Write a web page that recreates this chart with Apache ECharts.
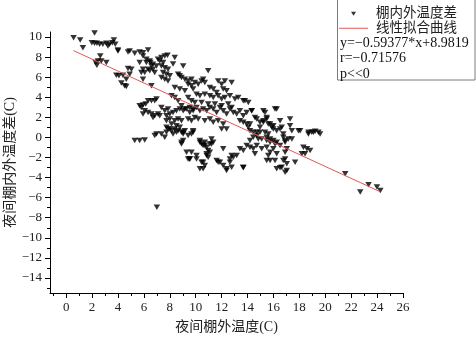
<!DOCTYPE html>
<html>
<head>
<meta charset="utf-8">
<script src="https://cdn.jsdelivr.net/npm/echarts@6/dist/echarts.min.js"></script>
<style>
  html, body { margin: 0; padding: 0; background: #fff; }
  #chart { width: 476px; height: 337px; }
</style>
</head>
<body>
<div id="chart"></div>
<script>
// 夜间棚外温度 vs 棚内外温度差 —— 散点 + 线性拟合
const FONT = '"Liberation Serif", "Noto Sans CJK SC", serif'

// [棚外温度, 棚内外温度差]
const scatterPoints = [
  [0.57, 9.93], [1.08, 9.7], [1.29, 8.94], [2.19, 10.4],
  [1.98, 9.43], [2.19, 9.37], [2.37, 9.37], [2.58, 9.27], [2.83, 9.27], [3.1, 9.37], [3.22, 9.1],
  [3.35, 9.27], [3.56, 9.43], [3.68, 9.7], [3.79, 9.27], [3.99, 8.71],
  [4.0, 8.61], [4.77, 8.51], [4.9, 8.61], [5.29, 8.38], [5.67, 8.51], [5.93, 8.44], [6.32, 8.71],
  [2.63, 8.11], [2.27, 7.45], [2.45, 7.62], [2.37, 7.19], [2.71, 7.62], [3.1, 7.45],
  [3.87, 6.2], [4.07, 6.13], [4.38, 6.2], [4.9, 6.3], [5.03, 6.8], [4.77, 6.86],
  [4.26, 5.41], [4.64, 5.07], [4.64, 5.8], [4.51, 5.14],
  [5.67, 7.45], [5.93, 6.8], [6.19, 7.45], [5.8, 6.46], [6.06, 6.46], [6.5, 7.45], [6.7, 6.8],
  [6.58, 7.12], [6.97, 7.12], [6.83, 6.46], [7.09, 7.79], [5.93, 5.8], [6.58, 5.14],
  [5.93, 8.11], [6.19, 7.78], [6.45, 7.62], [6.7, 7.29], [6.32, 6.8], [6.45, 6.63],
  [5.67, 3.15], [5.93, 3.22], [6.14, 3.32], [6.32, 3.65], [6.58, 3.65], [6.97, 3.82],
  [7.35, 7.95], [7.61, 8.11], [7.82, 8.18], [7.22, 7.62], [7.48, 7.45], [7.35, 7.12],
  [7.61, 6.95], [7.86, 6.8], [7.48, 6.46], [7.74, 6.3], [8.0, 6.13], [7.35, 5.96], [7.61, 5.8],
  [7.86, 5.63], [8.38, 7.95], [8.25, 7.3], [9.03, 7.12], [8.64, 6.3], [8.77, 6.13], [8.9, 5.96],
  [9.16, 5.8], [9.41, 5.63], [9.67, 5.8], [8.38, 4.97], [8.77, 4.81], [9.16, 4.64], [9.41, 5.3],
  [9.67, 5.14], [9.93, 5.47], [10.19, 5.3], [9.8, 4.81], [10.45, 5.63], [10.57, 5.8], [10.7, 5.47],
  [10.96, 6.63], [11.09, 4.97], [11.35, 4.81], [11.73, 5.63], [12.0, 5.3], [12.25, 5.63],
  [12.12, 4.81], [12.38, 4.64], [12.77, 5.47], [11.61, 4.47], [10.06, 4.31], [10.32, 4.14],
  [10.7, 4.31], [11.09, 4.14], [11.35, 3.97], [11.73, 4.14], [12.0, 3.82], [12.25, 3.97],
  [12.64, 4.14], [13.03, 3.82], [13.28, 3.97], [13.67, 3.65], [14.06, 3.48], [13.8, 3.65],
  [9.41, 3.97], [9.67, 3.65], [9.93, 3.48], [10.45, 3.48], [10.96, 3.32], [11.48, 3.32],
  [12.0, 3.15], [12.51, 3.32], [12.77, 2.98], [8.13, 4.14], [8.38, 3.97], [8.64, 3.65],
  [8.9, 3.15], [9.16, 2.83], [7.86, 2.83], [7.35, 2.98], [6.83, 3.65],
  [5.8, 2.98], [6.06, 2.66], [5.93, 2.33], [6.32, 2.49], [6.58, 2.33], [6.7, 1.99], [6.83, 2.16],
  [7.09, 2.33], [7.61, 2.66], [7.74, 2.16], [8.0, 2.33], [8.25, 2.49], [8.51, 2.66],
  [8.77, 2.83], [9.03, 2.66], [9.29, 2.83], [9.54, 2.49], [9.8, 2.66], [7.22, 2.16],
  [7.74, 1.67], [8.0, 1.83], [8.38, 1.67], [8.64, 1.83], [8.9, 1.67], [9.41, 1.83], [9.67, 1.67],
  [7.74, 1.0], [7.86, 0.84], [8.13, 0.67], [8.38, 0.84], [8.64, 0.67], [8.77, 1.0], [8.9, 0.51],
  [9.03, 0.35], [9.16, 0.67], [8.51, 1.17], [9.41, 0.18], [9.67, 0.35], [9.8, 0.51],
  [8.13, 1.34], [8.0, 0.84], [8.51, 0.51], [9.03, 0.51], [8.25, 0.35],
  [6.97, 0.35], [7.35, 0.35], [6.83, 0.18], [7.61, 0.01], [7.74, 0.51],
  [5.29, -0.32], [5.67, -0.32], [6.06, -0.25],
  [8.9, -0.49], [9.03, -0.32], [9.29, -1.48], [9.54, -2.14], [8.9, -0.65],
  [9.41, -2.14], [10.06, -2.14], [10.45, -2.47], [9.67, -1.48], [10.57, -3.13], [10.7, -2.8],
  [7.0, -6.96],
  [9.54, 2.99], [9.8, 2.83], [10.06, 2.99], [10.32, 2.66], [10.57, 2.83], [10.84, 2.66],
  [11.09, 2.99], [11.35, 2.83], [11.61, 2.49], [11.87, 2.99], [12.12, 2.66], [12.38, 2.33],
  [12.64, 2.83], [12.9, 2.49], [13.16, 2.33], [13.41, 2.66], [13.67, 2.16], [13.93, 2.49],
  [14.32, 2.66], [14.57, 1.99], [14.71, 1.83], [14.96, 1.5], [15.22, 1.67], [15.48, 1.83],
  [15.74, 1.34], [15.99, 1.17], [16.25, 2.83], [15.35, 2.49],
  [9.93, 1.99], [10.19, 1.83], [10.7, 1.67], [11.09, 1.83], [11.35, 1.5], [11.73, 1.67],
  [12.12, 1.34], [12.38, 0.84], [12.0, 0.84], [13.41, 1.67], [13.67, 1.5], [13.93, 1.34],
  [14.06, 1.0], [14.19, 0.67], [14.44, 0.51], [14.71, 0.18], [14.96, 0.51], [15.09, -0.15],
  [15.48, 0.01], [15.74, -0.15], [15.99, -0.32], [16.25, -0.49], [16.51, 0.84], [16.76, 0.35],
  [16.9, -0.49], [17.15, -0.15], [9.8, 0.67],
  [10.32, -0.32], [10.45, -0.65], [10.57, -0.81], [10.7, -0.49], [10.84, -0.98], [10.96, -1.31],
  [11.09, -1.48], [10.84, -1.64], [10.96, -1.97], [11.22, -0.15], [11.35, -0.49], [11.22, -0.65],
  [10.32, -0.49], [10.7, -0.81], [11.09, -0.65], [10.84, -1.81],
  [10.06, -1.81], [10.57, -2.47], [10.32, -3.13], [11.61, -2.3], [11.87, -2.47], [12.38, -3.13],
  [12.64, -2.47], [12.77, -1.81], [13.16, -1.81], [13.41, -1.14], [13.67, -1.31], [13.93, -0.81],
  [14.19, -0.98], [14.44, -1.14], [14.57, -1.64], [14.71, -0.81], [15.09, -1.14], [15.48, -0.98],
  [15.6, -1.81], [15.74, -1.48], [15.99, -1.14], [16.51, -0.81], [16.64, -2.97], [17.03, -3.29],
  [15.74, -2.3], [16.12, -2.3], [12.64, -2.14], [12.12, -1.14], [13.67, -2.97], [9.54, -2.14],
  [16.9, -1.48], [17.03, -1.14],
  [11.73, -2.47], [12.12, -2.8], [12.38, -3.29], [12.77, -2.97], [12.9, -1.97],
  [16.25, -3.13], [16.9, -3.46], [17.03, -2.63], [16.76, -2.3], [16.25, -1.64], [15.48, -2.3],
  [17.67, -2.47], [13.67, -3.03], [16.51, -3.03], [16.9, -2.14],
  [14.32, 2.66], [15.22, 2.66], [16.12, 2.83], [17.28, 1.83], [16.51, 1.67], [15.48, 1.99],
  [15.22, 1.5], [15.6, 1.34], [15.87, 1.0], [15.99, 0.84], [16.25, 0.67], [14.96, 1.0],
  [14.19, 1.34], [14.71, 0.51], [15.35, 0.51], [15.6, 0.35], [16.64, 1.0], [17.28, 1.17],
  [17.42, 0.67], [17.93, 0.67], [18.7, 0.51], [18.96, 0.51], [19.22, 0.61], [19.47, 0.51],
  [16.76, 0.01], [16.9, -0.32], [17.42, -0.15], [14.44, 0.01], [14.83, -0.15], [14.19, -0.32],
  [15.48, -0.32], [15.74, -0.49], [16.12, -0.65],
  [18.06, 0.67], [18.7, 0.35], [19.09, 0.51], [19.6, 0.35],
  [18.31, -0.98], [18.58, -1.14], [18.83, -1.31], [18.19, -1.64], [18.44, -1.64],
  [21.54, -3.62], [23.34, -4.71], [23.99, -4.95], [24.25, -5.28], [22.7, -5.45]
]

// 拟合直线 y = -0.59377 * x + 8.9819
const fitSlope = -0.59377
const fitIntercept = 8.9819
const fitRange = [0.55, 24.2]

const xMajor = [0, 2, 4, 6, 8, 10, 12, 14, 16, 18, 20, 22, 24, 26]
const xMinor = [-1, 1, 3, 5, 7, 9, 11, 13, 15, 17, 19, 21, 23, 25]
const yMajor = [-14, -12, -10, -8, -6, -4, -2, 0, 2, 4, 6, 8, 10]
const yMinor = [-15, -13, -11, -9, -7, -5, -3, -1, 1, 3, 5, 7, 9]

const statLines = ['y=\u22120.59377*x+8.9819', 'r=\u22120.71576', 'p<<0']

const minus = v => String(v).replace('-', '\u2212')
const X_MIN = -1.25, X_MAX = 26, Y_MIN = -15.5, Y_MAX = 10.5

// 倒三角；图例里多加两个 moveTo 点把图标缩小
const TRI = 'path://M0,0L10,0L5,8Z'
const TRI_LEGEND = 'path://M-4,-3M14,11M0,0L10,0L5,8Z'
const LINE_LEGEND = 'path://M0,0L29,0L29,1L0,1Z'

const chart = echarts.init(document.getElementById('chart'), null, { renderer: 'canvas' })

const lineStyle = { color: '#000', width: 1 }

chart.setOption({
  backgroundColor: '#fff',
  animation: false,
  grid: { left: 50, right: 73, top: 32, bottom: 44, containLabel: false, outerBoundsMode: 'none' },
  legend: {
    orient: 'vertical',
    left: 339,
    top: 7,
    itemGap: 1,
    itemWidth: 29,
    itemHeight: 7,
    padding: 0,
    textStyle: { fontFamily: FONT, fontSize: 13.5, color: '#222', padding: [0, 0, 0, 3] },
    data: [
      { name: '棚内外温度差', icon: TRI_LEGEND },
      { name: '线性拟合曲线', icon: LINE_LEGEND }
    ]
  },
  xAxis: [
    {
      type: 'value', position: 'bottom',
      min: X_MIN, max: X_MAX,
      name: '夜间棚外温度(C)',
      nameLocation: 'middle',
      nameGap: 27,
      nameMoveOverlap: false,
      nameTextStyle: { fontFamily: FONT, fontSize: 14, color: '#222' },
      splitLine: { show: false },
      axisLine: { show: true, onZero: false, lineStyle },
      axisTick: { show: true, length: 5, customValues: xMajor, lineStyle },
      axisLabel: { margin: 8, customValues: xMajor, fontFamily: FONT, fontSize: 13, color: '#222', formatter: minus }
    },
    {
      type: 'value', position: 'bottom',
      min: X_MIN, max: X_MAX,
      splitLine: { show: false },
      axisLine: { show: false, onZero: false },
      axisTick: { show: true, length: 3, customValues: xMinor, lineStyle },
      axisLabel: { show: false }
    }
  ],
  yAxis: [
    {
      type: 'value', position: 'left',
      min: Y_MIN, max: Y_MAX,
      name: '夜间棚内外温度差(C)',
      nameLocation: 'middle',
      nameGap: 33,
      nameMoveOverlap: false,
      nameTextStyle: { fontFamily: FONT, fontSize: 14, color: '#222' },
      splitLine: { show: false },
      axisLine: { show: true, onZero: false, lineStyle },
      axisTick: { show: true, length: 5, customValues: yMajor, lineStyle },
      axisLabel: { margin: 8, customValues: yMajor, fontFamily: FONT, fontSize: 13, color: '#222', formatter: minus }
    },
    {
      type: 'value', position: 'left',
      min: Y_MIN, max: Y_MAX,
      splitLine: { show: false },
      axisLine: { show: false, onZero: false },
      axisTick: { show: true, length: 3, customValues: yMinor, lineStyle },
      axisLabel: { show: false }
    }
  ],
  graphic: [
    {
      type: 'rect',
      shape: { x: 337.5, y: -0.5, width: 137.5, height: 80.5 },
      style: { fill: 'none', stroke: '#7a7a7a', lineWidth: 1 },
      silent: true
    },
    ...statLines.map((t, i) => ({
      type: 'text',
      left: 340,
      top: 36 + i * 15.5,
      style: { text: t, fontFamily: FONT, fontSize: 14, fill: '#111' },
      silent: true
    }))
  ],
  series: [
    {
      name: '棚内外温度差',
      type: 'scatter',
      symbol: TRI,
      symbolSize: [6.5, 5.5],
      itemStyle: { color: '#000' },
      data: scatterPoints,
      z: 3
    },
    {
      name: '线性拟合曲线',
      type: 'line',
      showSymbol: false,
      symbol: 'none',
      lineStyle: { color: '#e0585a', width: 1 },
      itemStyle: { color: '#e0585a' },
      data: fitRange.map(x => [x, fitSlope * x + fitIntercept]),
      z: 4
    }
  ]
})
</script>
</body>
</html>
